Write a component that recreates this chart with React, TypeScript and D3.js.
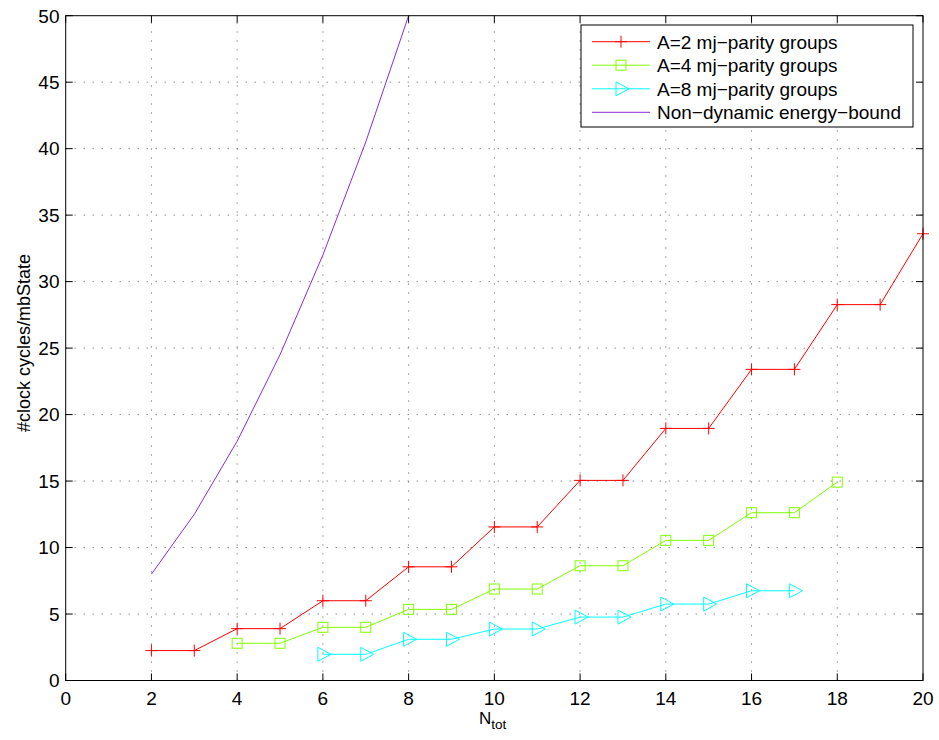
import React from "react";
import * as d3 from "d3";

// N_tot values and cycle counts per series
const nA2 = [2, 3, 4, 5, 6, 7, 8, 9, 10, 11, 12, 13, 14, 15, 16, 17, 18, 19, 20];
const cyclesA2 = [2.25, 2.25, 3.9, 3.9, 6.0, 6.0, 8.55, 8.55, 11.55, 11.55, 15.05, 15.05, 18.96, 18.96, 23.4, 23.4, 28.27, 28.27, 33.6];

const nA4 = [4, 5, 6, 7, 8, 9, 10, 11, 12, 13, 14, 15, 16, 17, 18];
const cyclesA4 = [2.8, 2.8, 4.0, 4.0, 5.35, 5.35, 6.88, 6.88, 8.63, 8.63, 10.54, 10.54, 12.62, 12.62, 14.92];

const nA8 = [6, 7, 8, 9, 10, 11, 12, 13, 14, 15, 16, 17];
const cyclesA8 = [1.97, 1.97, 3.1, 3.1, 3.87, 3.87, 4.77, 4.77, 5.75, 5.75, 6.75, 6.75];

const nBound = [2, 3, 4, 5, 6, 7, 8];
const cyclesBound = [8, 12.5, 18, 24.5, 32, 40.5, 50];

const xTicks = [0, 2, 4, 6, 8, 10, 12, 14, 16, 18, 20];
const yTicks = [0, 5, 10, 15, 20, 25, 30, 35, 40, 45, 50];

const legendLabels = [
  "A=2 mj\u2212parity groups",
  "A=4 mj\u2212parity groups",
  "A=8 mj\u2212parity groups",
  "Non\u2212dynamic energy\u2212bound",
];

type Marker = "plus" | "square" | "triangle" | "none";

const series: { xs: number[]; ys: number[]; color: string; marker: Marker }[] = [
  { xs: nA2, ys: cyclesA2, color: "#ff0000", marker: "plus" },
  { xs: nA4, ys: cyclesA4, color: "#80ff00", marker: "square" },
  { xs: nA8, ys: cyclesA8, color: "#00ffff", marker: "triangle" },
  { xs: nBound, ys: cyclesBound, color: "#8a2be2", marker: "none" },
];

const W = 939;
const H = 740;
const left = 65.7;
const right = 923;
const top = 15.7;
const bottom = 680.5;
const font = "'Liberation Sans', Arial, Helvetica, sans-serif";
const fs = 19;

function MarkerShape({ type, x, y, color }: { type: Marker; x: number; y: number; color: string }) {
  if (type === "plus") {
    return (
      <path d={`M${x - 6},${y}H${x + 6}M${x},${y - 6}V${y + 6}`} stroke={color} strokeWidth={1} fill="none" />
    );
  }
  if (type === "square") {
    return <rect x={x - 5} y={y - 5} width={10} height={10} stroke={color} strokeWidth={1} fill="none" />;
  }
  if (type === "triangle") {
    return (
      <path d={`M${x - 5},${y - 7}L${x + 8},${y}L${x - 5},${y + 7}Z`} stroke={color} strokeWidth={1} fill="none" />
    );
  }
  return null;
}

export default function App() {
  const x = d3.scaleLinear().domain([0, 20]).range([left, right]);
  const y = d3.scaleLinear().domain([0, 50]).range([bottom, top]);
  const line = d3
    .line<[number, number]>()
    .x((d) => x(d[0]))
    .y((d) => y(d[1]));

  const legX = 581;
  const legY = 25;
  const legW = 332;
  const legH = 102;
  const rowY = [41.7, 65.2, 88.8, 112.3];

  return (
    <svg width={W} height={H} style={{ position: "absolute", left: 0, top: 0, background: "#fff" }}>
      <rect x={0} y={0} width={W} height={H} fill="#fff" />
      {/* grid */}
      <g stroke="#222" strokeWidth={1} strokeDasharray="1,8" opacity={0.75}>
        {xTicks.slice(1, -1).map((t) => (
          <line key={"gx" + t} x1={x(t)} x2={x(t)} y1={bottom} y2={top} />
        ))}
        {yTicks.slice(1, -1).map((t) => (
          <line key={"gy" + t} x1={left} x2={right} y1={y(t)} y2={y(t)} />
        ))}
      </g>
      {/* data */}
      <defs>
        <clipPath id="plotClip">
          <rect x={left} y={top - 1} width={right - left + 10} height={bottom - top + 2} />
        </clipPath>
      </defs>
      <g clipPath="url(#plotClip)">
        {series.map((s, i) => {
          const pts = s.xs.map((v, j) => [v, s.ys[j]] as [number, number]);
          return (
            <g key={"s" + i}>
              <path d={line(pts) || ""} stroke={s.color} strokeWidth={1} fill="none" />
              {pts.map((p, j) => (
                <MarkerShape key={j} type={s.marker} x={x(p[0])} y={y(p[1])} color={s.color} />
              ))}
            </g>
          );
        })}
      </g>
      {/* axes box and ticks */}
      <rect x={left} y={top} width={right - left} height={bottom - top} fill="none" stroke="#000" strokeWidth={1} />
      <g stroke="#000" strokeWidth={1}>
        {xTicks.map((t) => (
          <g key={"tx" + t}>
            <line x1={x(t)} x2={x(t)} y1={bottom} y2={bottom - 7} />
            <line x1={x(t)} x2={x(t)} y1={top} y2={top + 7} />
          </g>
        ))}
        {yTicks.map((t) => (
          <g key={"ty" + t}>
            <line x1={left} x2={left + 7} y1={y(t)} y2={y(t)} />
            <line x1={right} x2={right - 7} y1={y(t)} y2={y(t)} />
          </g>
        ))}
      </g>
      <g fontFamily={font} fontSize={fs} fill="#000">
        {xTicks.map((t) => (
          <text key={"lx" + t} x={x(t)} y={704.5} textAnchor="middle">
            {t}
          </text>
        ))}
        {yTicks.map((t) => (
          <text key={"ly" + t} x={59.5} y={y(t) + 6.8} textAnchor="end">
            {t}
          </text>
        ))}
      </g>
      {/* axis labels */}
      <text x={479} y={724} fontFamily={font} fontSize={17} textAnchor="start">
        N
        <tspan fontSize={13.5} dy={5}>
          tot
        </tspan>
      </text>
      <text
        transform={`translate(30,343) rotate(-90)`}
        fontFamily={font}
        fontSize={18}
        textAnchor="middle"
      >
        #clock cycles/mbState
      </text>
      {/* legend */}
      <rect x={legX} y={legY} width={legW} height={legH} fill="#fff" stroke="#000" strokeWidth={1} />
      {series.map((s, i) => (
        <g key={"leg" + i}>
          <line x1={592} x2={650} y1={rowY[i]} y2={rowY[i]} stroke={s.color} strokeWidth={1} />
          <MarkerShape type={s.marker} x={621} y={rowY[i]} color={s.color} />
          <text x={657} y={rowY[i] + 6.8} fontFamily={font} fontSize={fs} fill="#000">
            {legendLabels[i]}
          </text>
        </g>
      ))}
    </svg>
  );
}
